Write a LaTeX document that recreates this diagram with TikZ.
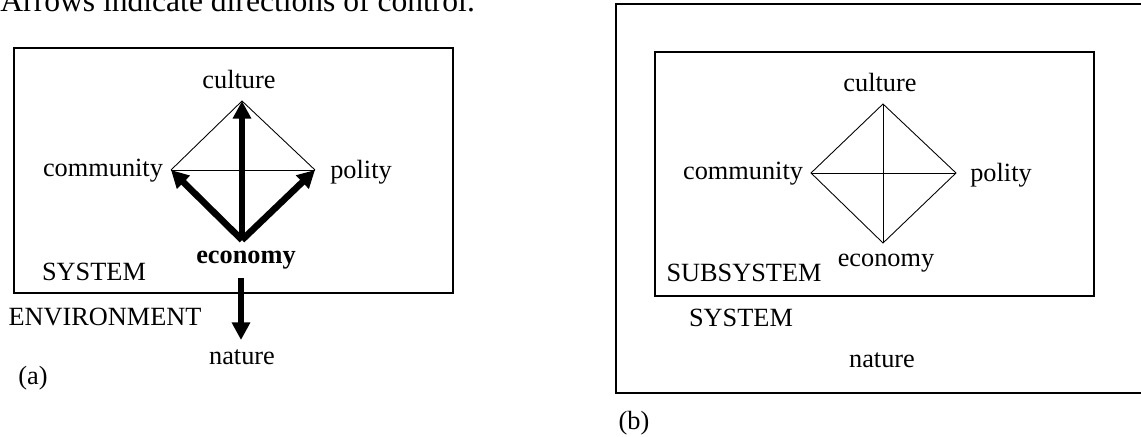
\documentclass[tikz,border=0pt]{standalone}
\usepackage{fontspec}
\setmainfont{Liberation Serif}
\usetikzlibrary{arrows.meta,positioning}
\tikzset{
    word/.style={
           inner sep=0pt,
           font=\fontsize{12pt}{14pt}\selectfont
           },
    frame/.style={
           draw=black, line width=1pt
           },
    edgeline/.style={
           draw=black, line width=0.4pt
           },
    ctrl/.style={
           line width=3pt,
           -{Triangle[width=8pt,length=8pt]}
           }
}
\begin{document}
\begin{tikzpicture}[x=0.456pt, y=-0.456pt]
\useasboundingbox (0,0) rectangle (1141,437);
\clip (0,0) rectangle (1141,437);
   \node[word, font=\fontsize{14.4pt}{17pt}\selectfont, anchor=base west] (caption) at (0,11.5) {Arrows indicate directions of control.};
   % (a) system with its environment
   \draw[frame] (14,48) rectangle (453,293);
   \coordinate (acul) at (242,101);
   \coordinate (acom) at (171,170);
   \coordinate (apol) at (315,170);
   \coordinate (aeco) at (242,240);
   \coordinate (aout) at (241,278);
   \coordinate (anat) at (241,340);
   \node[word] (culA) at (239,79.5) {culture};
   \node[word] (comA) at (103,171) {community};
   \node[word] (polA) at (361,172) {polity};
   \node[word] (ecoA) at (246,260) {\bfseries economy};
   \node[word] (sysA) at (94,272) {SYSTEM};
   \node[word] (envA) at (105,317) {ENVIRONMENT};
   \node[word] (natA) at (242,357.5) {nature};
   \node[word] (tagA) at (33,378) {(a)};
   \draw[edgeline] (acom) -- (acul) -- (apol);
   \draw[edgeline] (acom) -- (apol);
   \draw[ctrl] (aeco) -- (acul);
   \draw[ctrl] (aeco) -- (acom);
   \draw[ctrl] (aeco) -- (apol);
   \draw[ctrl] (aout) -- (anat);
   % (b) subsystem inside the system
   \draw[frame] (616,4) rectangle (1160,393);
   \draw[frame] (655,52) rectangle (1094,296);
   \coordinate (bcul) at (883,104);
   \coordinate (bcom) at (811,173);
   \coordinate (bpol) at (956,173);
   \coordinate (beco) at (883,243);
   \node[word] (culB) at (880,83) {culture};
   \node[word] (comB) at (743,174) {community};
   \node[word] (polB) at (1001,175) {polity};
   \node[word] (ecoB) at (886,263) {economy};
   \node[word] (subB) at (744,273) {SUBSYSTEM};
   \node[word] (sysB) at (741,318) {SYSTEM};
   \node[word] (natB) at (882,360) {nature};
   \node[word] (tagB) at (634,423) {(b)};
   \draw[edgeline] (bcul) -- (bpol) -- (beco) -- (bcom) -- cycle;
   \draw[edgeline] (bcul) -- (beco);
   \draw[edgeline] (bcom) -- (bpol);
\end{tikzpicture}
\end{document}
